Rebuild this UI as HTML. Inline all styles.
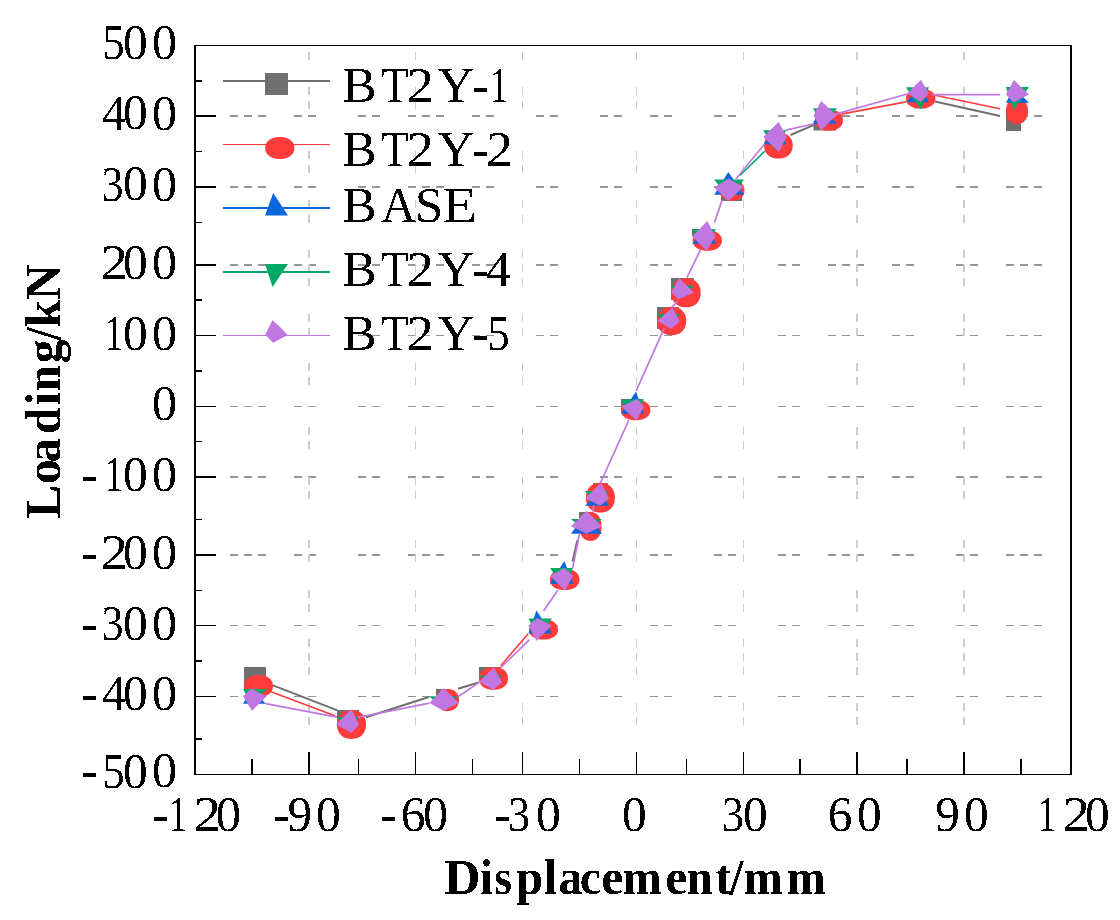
<!DOCTYPE html>
<html><head><meta charset="utf-8"><title>Loading vs Displacement</title>
<style>html,body{margin:0;padding:0;background:#fff;}svg{display:block;}</style></head>
<body><svg width="1120" height="920" viewBox="0 0 1120 920">
<defs><filter id="bin" x="-5%" y="-5%" width="110%" height="110%"><feComponentTransfer><feFuncA type="discrete" tableValues="0 1"/></feComponentTransfer></filter></defs>
<rect width="1120" height="920" fill="#fff"/>
<g fill="#969696"><rect x="230" y="115" width="8" height="2"/><rect x="244" y="115" width="8" height="2"/><rect x="258" y="115" width="8" height="2"/><rect x="294" y="115" width="8" height="2"/><rect x="308" y="115" width="8" height="2"/><rect x="358" y="115" width="8" height="2"/><rect x="372" y="115" width="8" height="2"/><rect x="408" y="115" width="8" height="2"/><rect x="422" y="115" width="8" height="2"/><rect x="436" y="115" width="8" height="2"/><rect x="472" y="115" width="8" height="2"/><rect x="486" y="115" width="8" height="2"/><rect x="536" y="115" width="8" height="2"/><rect x="550" y="115" width="8" height="2"/><rect x="600" y="115" width="8" height="2"/><rect x="614" y="115" width="8" height="2"/><rect x="650" y="115" width="8" height="2"/><rect x="664" y="115" width="8" height="2"/><rect x="714" y="115" width="8" height="2"/><rect x="728" y="115" width="8" height="2"/><rect x="778" y="115" width="8" height="2"/><rect x="792" y="115" width="8" height="2"/><rect x="828" y="115" width="8" height="2"/><rect x="842" y="115" width="8" height="2"/><rect x="856" y="115" width="8" height="2"/><rect x="892" y="115" width="8" height="2"/><rect x="906" y="115" width="8" height="2"/><rect x="956" y="115" width="8" height="2"/><rect x="970" y="115" width="8" height="2"/><rect x="1006" y="115" width="8" height="2"/><rect x="1020" y="115" width="8" height="2"/><rect x="1034" y="115" width="8" height="2"/><rect x="230" y="186" width="8" height="2"/><rect x="244" y="186" width="8" height="2"/><rect x="258" y="186" width="8" height="2"/><rect x="294" y="186" width="8" height="2"/><rect x="308" y="186" width="8" height="2"/><rect x="358" y="186" width="8" height="2"/><rect x="372" y="186" width="8" height="2"/><rect x="408" y="186" width="8" height="2"/><rect x="422" y="186" width="8" height="2"/><rect x="436" y="186" width="8" height="2"/><rect x="472" y="186" width="8" height="2"/><rect x="486" y="186" width="8" height="2"/><rect x="536" y="186" width="8" height="2"/><rect x="550" y="186" width="8" height="2"/><rect x="600" y="186" width="8" height="2"/><rect x="614" y="186" width="8" height="2"/><rect x="650" y="186" width="8" height="2"/><rect x="664" y="186" width="8" height="2"/><rect x="714" y="186" width="8" height="2"/><rect x="728" y="186" width="8" height="2"/><rect x="778" y="186" width="8" height="2"/><rect x="792" y="186" width="8" height="2"/><rect x="828" y="186" width="8" height="2"/><rect x="842" y="186" width="8" height="2"/><rect x="856" y="186" width="8" height="2"/><rect x="892" y="186" width="8" height="2"/><rect x="906" y="186" width="8" height="2"/><rect x="956" y="186" width="8" height="2"/><rect x="970" y="186" width="8" height="2"/><rect x="1006" y="186" width="8" height="2"/><rect x="1020" y="186" width="8" height="2"/><rect x="1034" y="186" width="8" height="2"/><rect x="230" y="264" width="8" height="2"/><rect x="244" y="264" width="8" height="2"/><rect x="258" y="264" width="8" height="2"/><rect x="294" y="264" width="8" height="2"/><rect x="308" y="264" width="8" height="2"/><rect x="358" y="264" width="8" height="2"/><rect x="372" y="264" width="8" height="2"/><rect x="408" y="264" width="8" height="2"/><rect x="422" y="264" width="8" height="2"/><rect x="436" y="264" width="8" height="2"/><rect x="472" y="264" width="8" height="2"/><rect x="486" y="264" width="8" height="2"/><rect x="536" y="264" width="8" height="2"/><rect x="550" y="264" width="8" height="2"/><rect x="600" y="264" width="8" height="2"/><rect x="614" y="264" width="8" height="2"/><rect x="650" y="264" width="8" height="2"/><rect x="664" y="264" width="8" height="2"/><rect x="714" y="264" width="8" height="2"/><rect x="728" y="264" width="8" height="2"/><rect x="778" y="264" width="8" height="2"/><rect x="792" y="264" width="8" height="2"/><rect x="828" y="264" width="8" height="2"/><rect x="842" y="264" width="8" height="2"/><rect x="856" y="264" width="8" height="2"/><rect x="892" y="264" width="8" height="2"/><rect x="906" y="264" width="8" height="2"/><rect x="956" y="264" width="8" height="2"/><rect x="970" y="264" width="8" height="2"/><rect x="1006" y="264" width="8" height="2"/><rect x="1020" y="264" width="8" height="2"/><rect x="1034" y="264" width="8" height="2"/><rect x="230" y="335" width="8" height="1"/><rect x="244" y="335" width="8" height="1"/><rect x="258" y="335" width="8" height="1"/><rect x="294" y="335" width="8" height="1"/><rect x="308" y="335" width="8" height="1"/><rect x="358" y="335" width="8" height="1"/><rect x="372" y="335" width="8" height="1"/><rect x="408" y="335" width="8" height="1"/><rect x="422" y="335" width="8" height="1"/><rect x="436" y="335" width="8" height="1"/><rect x="472" y="335" width="8" height="1"/><rect x="486" y="335" width="8" height="1"/><rect x="536" y="335" width="8" height="1"/><rect x="550" y="335" width="8" height="1"/><rect x="600" y="335" width="8" height="1"/><rect x="614" y="335" width="8" height="1"/><rect x="650" y="335" width="8" height="1"/><rect x="664" y="335" width="8" height="1"/><rect x="714" y="335" width="8" height="1"/><rect x="728" y="335" width="8" height="1"/><rect x="778" y="335" width="8" height="1"/><rect x="792" y="335" width="8" height="1"/><rect x="828" y="335" width="8" height="1"/><rect x="842" y="335" width="8" height="1"/><rect x="856" y="335" width="8" height="1"/><rect x="892" y="335" width="8" height="1"/><rect x="906" y="335" width="8" height="1"/><rect x="956" y="335" width="8" height="1"/><rect x="970" y="335" width="8" height="1"/><rect x="1006" y="335" width="8" height="1"/><rect x="1020" y="335" width="8" height="1"/><rect x="1034" y="335" width="8" height="1"/><rect x="230" y="406" width="8" height="1"/><rect x="244" y="406" width="8" height="1"/><rect x="258" y="406" width="8" height="1"/><rect x="294" y="406" width="8" height="1"/><rect x="308" y="406" width="8" height="1"/><rect x="358" y="406" width="8" height="1"/><rect x="372" y="406" width="8" height="1"/><rect x="408" y="406" width="8" height="1"/><rect x="422" y="406" width="8" height="1"/><rect x="436" y="406" width="8" height="1"/><rect x="472" y="406" width="8" height="1"/><rect x="486" y="406" width="8" height="1"/><rect x="536" y="406" width="8" height="1"/><rect x="550" y="406" width="8" height="1"/><rect x="600" y="406" width="8" height="1"/><rect x="614" y="406" width="8" height="1"/><rect x="650" y="406" width="8" height="1"/><rect x="664" y="406" width="8" height="1"/><rect x="714" y="406" width="8" height="1"/><rect x="728" y="406" width="8" height="1"/><rect x="778" y="406" width="8" height="1"/><rect x="792" y="406" width="8" height="1"/><rect x="828" y="406" width="8" height="1"/><rect x="842" y="406" width="8" height="1"/><rect x="856" y="406" width="8" height="1"/><rect x="892" y="406" width="8" height="1"/><rect x="906" y="406" width="8" height="1"/><rect x="956" y="406" width="8" height="1"/><rect x="970" y="406" width="8" height="1"/><rect x="1006" y="406" width="8" height="1"/><rect x="1020" y="406" width="8" height="1"/><rect x="1034" y="406" width="8" height="1"/><rect x="230" y="476" width="8" height="2"/><rect x="244" y="476" width="8" height="2"/><rect x="258" y="476" width="8" height="2"/><rect x="294" y="476" width="8" height="2"/><rect x="308" y="476" width="8" height="2"/><rect x="358" y="476" width="8" height="2"/><rect x="372" y="476" width="8" height="2"/><rect x="408" y="476" width="8" height="2"/><rect x="422" y="476" width="8" height="2"/><rect x="436" y="476" width="8" height="2"/><rect x="472" y="476" width="8" height="2"/><rect x="486" y="476" width="8" height="2"/><rect x="536" y="476" width="8" height="2"/><rect x="550" y="476" width="8" height="2"/><rect x="600" y="476" width="8" height="2"/><rect x="614" y="476" width="8" height="2"/><rect x="650" y="476" width="8" height="2"/><rect x="664" y="476" width="8" height="2"/><rect x="714" y="476" width="8" height="2"/><rect x="728" y="476" width="8" height="2"/><rect x="778" y="476" width="8" height="2"/><rect x="792" y="476" width="8" height="2"/><rect x="828" y="476" width="8" height="2"/><rect x="842" y="476" width="8" height="2"/><rect x="856" y="476" width="8" height="2"/><rect x="892" y="476" width="8" height="2"/><rect x="906" y="476" width="8" height="2"/><rect x="956" y="476" width="8" height="2"/><rect x="970" y="476" width="8" height="2"/><rect x="1006" y="476" width="8" height="2"/><rect x="1020" y="476" width="8" height="2"/><rect x="1034" y="476" width="8" height="2"/><rect x="230" y="554" width="8" height="2"/><rect x="244" y="554" width="8" height="2"/><rect x="258" y="554" width="8" height="2"/><rect x="294" y="554" width="8" height="2"/><rect x="308" y="554" width="8" height="2"/><rect x="358" y="554" width="8" height="2"/><rect x="372" y="554" width="8" height="2"/><rect x="408" y="554" width="8" height="2"/><rect x="422" y="554" width="8" height="2"/><rect x="436" y="554" width="8" height="2"/><rect x="472" y="554" width="8" height="2"/><rect x="486" y="554" width="8" height="2"/><rect x="536" y="554" width="8" height="2"/><rect x="550" y="554" width="8" height="2"/><rect x="600" y="554" width="8" height="2"/><rect x="614" y="554" width="8" height="2"/><rect x="650" y="554" width="8" height="2"/><rect x="664" y="554" width="8" height="2"/><rect x="714" y="554" width="8" height="2"/><rect x="728" y="554" width="8" height="2"/><rect x="778" y="554" width="8" height="2"/><rect x="792" y="554" width="8" height="2"/><rect x="828" y="554" width="8" height="2"/><rect x="842" y="554" width="8" height="2"/><rect x="856" y="554" width="8" height="2"/><rect x="892" y="554" width="8" height="2"/><rect x="906" y="554" width="8" height="2"/><rect x="956" y="554" width="8" height="2"/><rect x="970" y="554" width="8" height="2"/><rect x="1006" y="554" width="8" height="2"/><rect x="1020" y="554" width="8" height="2"/><rect x="1034" y="554" width="8" height="2"/><rect x="230" y="625" width="8" height="1"/><rect x="244" y="625" width="8" height="1"/><rect x="258" y="625" width="8" height="1"/><rect x="294" y="625" width="8" height="1"/><rect x="308" y="625" width="8" height="1"/><rect x="358" y="625" width="8" height="1"/><rect x="372" y="625" width="8" height="1"/><rect x="408" y="625" width="8" height="1"/><rect x="422" y="625" width="8" height="1"/><rect x="436" y="625" width="8" height="1"/><rect x="472" y="625" width="8" height="1"/><rect x="486" y="625" width="8" height="1"/><rect x="536" y="625" width="8" height="1"/><rect x="550" y="625" width="8" height="1"/><rect x="600" y="625" width="8" height="1"/><rect x="614" y="625" width="8" height="1"/><rect x="650" y="625" width="8" height="1"/><rect x="664" y="625" width="8" height="1"/><rect x="714" y="625" width="8" height="1"/><rect x="728" y="625" width="8" height="1"/><rect x="778" y="625" width="8" height="1"/><rect x="792" y="625" width="8" height="1"/><rect x="828" y="625" width="8" height="1"/><rect x="842" y="625" width="8" height="1"/><rect x="856" y="625" width="8" height="1"/><rect x="892" y="625" width="8" height="1"/><rect x="906" y="625" width="8" height="1"/><rect x="956" y="625" width="8" height="1"/><rect x="970" y="625" width="8" height="1"/><rect x="1006" y="625" width="8" height="1"/><rect x="1020" y="625" width="8" height="1"/><rect x="1034" y="625" width="8" height="1"/><rect x="230" y="696" width="8" height="1"/><rect x="244" y="696" width="8" height="1"/><rect x="258" y="696" width="8" height="1"/><rect x="294" y="696" width="8" height="1"/><rect x="308" y="696" width="8" height="1"/><rect x="358" y="696" width="8" height="1"/><rect x="372" y="696" width="8" height="1"/><rect x="408" y="696" width="8" height="1"/><rect x="422" y="696" width="8" height="1"/><rect x="436" y="696" width="8" height="1"/><rect x="472" y="696" width="8" height="1"/><rect x="486" y="696" width="8" height="1"/><rect x="536" y="696" width="8" height="1"/><rect x="550" y="696" width="8" height="1"/><rect x="600" y="696" width="8" height="1"/><rect x="614" y="696" width="8" height="1"/><rect x="650" y="696" width="8" height="1"/><rect x="664" y="696" width="8" height="1"/><rect x="714" y="696" width="8" height="1"/><rect x="728" y="696" width="8" height="1"/><rect x="778" y="696" width="8" height="1"/><rect x="792" y="696" width="8" height="1"/><rect x="828" y="696" width="8" height="1"/><rect x="842" y="696" width="8" height="1"/><rect x="856" y="696" width="8" height="1"/><rect x="892" y="696" width="8" height="1"/><rect x="906" y="696" width="8" height="1"/><rect x="956" y="696" width="8" height="1"/><rect x="970" y="696" width="8" height="1"/><rect x="1006" y="696" width="8" height="1"/><rect x="1020" y="696" width="8" height="1"/><rect x="1034" y="696" width="8" height="1"/></g>
<g fill="#cdcdcd"><rect x="308" y="52" width="2" height="8"/><rect x="308" y="87" width="2" height="8"/><rect x="308" y="101" width="2" height="8"/><rect x="308" y="151" width="2" height="8"/><rect x="308" y="165" width="2" height="8"/><rect x="308" y="200" width="2" height="8"/><rect x="308" y="215" width="2" height="8"/><rect x="308" y="250" width="2" height="8"/><rect x="308" y="264" width="2" height="8"/><rect x="308" y="278" width="2" height="8"/><rect x="308" y="314" width="2" height="8"/><rect x="308" y="328" width="2" height="8"/><rect x="308" y="363" width="2" height="8"/><rect x="308" y="377" width="2" height="8"/><rect x="308" y="427" width="2" height="8"/><rect x="308" y="441" width="2" height="8"/><rect x="308" y="477" width="2" height="8"/><rect x="308" y="491" width="2" height="8"/><rect x="308" y="540" width="2" height="8"/><rect x="308" y="554" width="2" height="8"/><rect x="308" y="590" width="2" height="8"/><rect x="308" y="604" width="2" height="8"/><rect x="308" y="639" width="2" height="8"/><rect x="308" y="653" width="2" height="8"/><rect x="308" y="667" width="2" height="8"/><rect x="308" y="703" width="2" height="8"/><rect x="308" y="717" width="2" height="8"/><rect x="415" y="52" width="1" height="8"/><rect x="415" y="87" width="1" height="8"/><rect x="415" y="101" width="1" height="8"/><rect x="415" y="151" width="1" height="8"/><rect x="415" y="165" width="1" height="8"/><rect x="415" y="200" width="1" height="8"/><rect x="415" y="215" width="1" height="8"/><rect x="415" y="250" width="1" height="8"/><rect x="415" y="264" width="1" height="8"/><rect x="415" y="278" width="1" height="8"/><rect x="415" y="314" width="1" height="8"/><rect x="415" y="328" width="1" height="8"/><rect x="415" y="363" width="1" height="8"/><rect x="415" y="377" width="1" height="8"/><rect x="415" y="427" width="1" height="8"/><rect x="415" y="441" width="1" height="8"/><rect x="415" y="477" width="1" height="8"/><rect x="415" y="491" width="1" height="8"/><rect x="415" y="540" width="1" height="8"/><rect x="415" y="554" width="1" height="8"/><rect x="415" y="590" width="1" height="8"/><rect x="415" y="604" width="1" height="8"/><rect x="415" y="639" width="1" height="8"/><rect x="415" y="653" width="1" height="8"/><rect x="415" y="667" width="1" height="8"/><rect x="415" y="703" width="1" height="8"/><rect x="415" y="717" width="1" height="8"/><rect x="522" y="52" width="1" height="8"/><rect x="522" y="87" width="1" height="8"/><rect x="522" y="101" width="1" height="8"/><rect x="522" y="151" width="1" height="8"/><rect x="522" y="165" width="1" height="8"/><rect x="522" y="200" width="1" height="8"/><rect x="522" y="215" width="1" height="8"/><rect x="522" y="250" width="1" height="8"/><rect x="522" y="264" width="1" height="8"/><rect x="522" y="278" width="1" height="8"/><rect x="522" y="314" width="1" height="8"/><rect x="522" y="328" width="1" height="8"/><rect x="522" y="363" width="1" height="8"/><rect x="522" y="377" width="1" height="8"/><rect x="522" y="427" width="1" height="8"/><rect x="522" y="441" width="1" height="8"/><rect x="522" y="477" width="1" height="8"/><rect x="522" y="491" width="1" height="8"/><rect x="522" y="540" width="1" height="8"/><rect x="522" y="554" width="1" height="8"/><rect x="522" y="590" width="1" height="8"/><rect x="522" y="604" width="1" height="8"/><rect x="522" y="639" width="1" height="8"/><rect x="522" y="653" width="1" height="8"/><rect x="522" y="667" width="1" height="8"/><rect x="522" y="703" width="1" height="8"/><rect x="522" y="717" width="1" height="8"/><rect x="636" y="52" width="1" height="8"/><rect x="636" y="87" width="1" height="8"/><rect x="636" y="101" width="1" height="8"/><rect x="636" y="151" width="1" height="8"/><rect x="636" y="165" width="1" height="8"/><rect x="636" y="200" width="1" height="8"/><rect x="636" y="215" width="1" height="8"/><rect x="636" y="250" width="1" height="8"/><rect x="636" y="264" width="1" height="8"/><rect x="636" y="278" width="1" height="8"/><rect x="636" y="314" width="1" height="8"/><rect x="636" y="328" width="1" height="8"/><rect x="636" y="363" width="1" height="8"/><rect x="636" y="377" width="1" height="8"/><rect x="636" y="427" width="1" height="8"/><rect x="636" y="441" width="1" height="8"/><rect x="636" y="477" width="1" height="8"/><rect x="636" y="491" width="1" height="8"/><rect x="636" y="540" width="1" height="8"/><rect x="636" y="554" width="1" height="8"/><rect x="636" y="590" width="1" height="8"/><rect x="636" y="604" width="1" height="8"/><rect x="636" y="639" width="1" height="8"/><rect x="636" y="653" width="1" height="8"/><rect x="636" y="667" width="1" height="8"/><rect x="636" y="703" width="1" height="8"/><rect x="636" y="717" width="1" height="8"/><rect x="743" y="52" width="1" height="8"/><rect x="743" y="87" width="1" height="8"/><rect x="743" y="101" width="1" height="8"/><rect x="743" y="151" width="1" height="8"/><rect x="743" y="165" width="1" height="8"/><rect x="743" y="200" width="1" height="8"/><rect x="743" y="215" width="1" height="8"/><rect x="743" y="250" width="1" height="8"/><rect x="743" y="264" width="1" height="8"/><rect x="743" y="278" width="1" height="8"/><rect x="743" y="314" width="1" height="8"/><rect x="743" y="328" width="1" height="8"/><rect x="743" y="363" width="1" height="8"/><rect x="743" y="377" width="1" height="8"/><rect x="743" y="427" width="1" height="8"/><rect x="743" y="441" width="1" height="8"/><rect x="743" y="477" width="1" height="8"/><rect x="743" y="491" width="1" height="8"/><rect x="743" y="540" width="1" height="8"/><rect x="743" y="554" width="1" height="8"/><rect x="743" y="590" width="1" height="8"/><rect x="743" y="604" width="1" height="8"/><rect x="743" y="639" width="1" height="8"/><rect x="743" y="653" width="1" height="8"/><rect x="743" y="667" width="1" height="8"/><rect x="743" y="703" width="1" height="8"/><rect x="743" y="717" width="1" height="8"/><rect x="856" y="52" width="2" height="8"/><rect x="856" y="87" width="2" height="8"/><rect x="856" y="101" width="2" height="8"/><rect x="856" y="151" width="2" height="8"/><rect x="856" y="165" width="2" height="8"/><rect x="856" y="200" width="2" height="8"/><rect x="856" y="215" width="2" height="8"/><rect x="856" y="250" width="2" height="8"/><rect x="856" y="264" width="2" height="8"/><rect x="856" y="278" width="2" height="8"/><rect x="856" y="314" width="2" height="8"/><rect x="856" y="328" width="2" height="8"/><rect x="856" y="363" width="2" height="8"/><rect x="856" y="377" width="2" height="8"/><rect x="856" y="427" width="2" height="8"/><rect x="856" y="441" width="2" height="8"/><rect x="856" y="477" width="2" height="8"/><rect x="856" y="491" width="2" height="8"/><rect x="856" y="540" width="2" height="8"/><rect x="856" y="554" width="2" height="8"/><rect x="856" y="590" width="2" height="8"/><rect x="856" y="604" width="2" height="8"/><rect x="856" y="639" width="2" height="8"/><rect x="856" y="653" width="2" height="8"/><rect x="856" y="667" width="2" height="8"/><rect x="856" y="703" width="2" height="8"/><rect x="856" y="717" width="2" height="8"/><rect x="963" y="52" width="2" height="8"/><rect x="963" y="87" width="2" height="8"/><rect x="963" y="101" width="2" height="8"/><rect x="963" y="151" width="2" height="8"/><rect x="963" y="165" width="2" height="8"/><rect x="963" y="200" width="2" height="8"/><rect x="963" y="215" width="2" height="8"/><rect x="963" y="250" width="2" height="8"/><rect x="963" y="264" width="2" height="8"/><rect x="963" y="278" width="2" height="8"/><rect x="963" y="314" width="2" height="8"/><rect x="963" y="328" width="2" height="8"/><rect x="963" y="363" width="2" height="8"/><rect x="963" y="377" width="2" height="8"/><rect x="963" y="427" width="2" height="8"/><rect x="963" y="441" width="2" height="8"/><rect x="963" y="477" width="2" height="8"/><rect x="963" y="491" width="2" height="8"/><rect x="963" y="540" width="2" height="8"/><rect x="963" y="554" width="2" height="8"/><rect x="963" y="590" width="2" height="8"/><rect x="963" y="604" width="2" height="8"/><rect x="963" y="639" width="2" height="8"/><rect x="963" y="653" width="2" height="8"/><rect x="963" y="667" width="2" height="8"/><rect x="963" y="703" width="2" height="8"/><rect x="963" y="717" width="2" height="8"/></g>
<rect x="244" y="667" width="22" height="22" fill="#6f6f6f"/>
<rect x="337" y="710" width="22" height="17" fill="#6f6f6f"/>
<rect x="436" y="689" width="12" height="8" fill="#6f6f6f"/>
<rect x="479" y="667" width="22" height="12" fill="#6f6f6f"/>
<rect x="532" y="620" width="16" height="12" fill="#6f6f6f"/>
<rect x="555" y="570" width="16" height="12" fill="#6f6f6f"/>
<rect x="579" y="512" width="14" height="12" fill="#6f6f6f"/>
<rect x="593" y="483" width="15" height="10" fill="#6f6f6f"/>
<rect x="621" y="399" width="22" height="12" fill="#6f6f6f"/>
<rect x="657" y="307" width="22" height="22" fill="#6f6f6f"/>
<rect x="671" y="278" width="23" height="22" fill="#6f6f6f"/>
<rect x="692" y="229" width="22" height="7" fill="#6f6f6f"/>
<rect x="721" y="180" width="21" height="21" fill="#6f6f6f"/>
<rect x="770" y="133" width="14" height="8" fill="#6f6f6f"/>
<rect x="813.6" y="121" width="22.4" height="9.5" fill="#6f6f6f"/>
<rect x="914" y="95" width="13" height="13.4" fill="#6f6f6f"/>
<rect x="1006" y="109" width="15" height="22" fill="#6f6f6f"/>
<polygon points="273.00,686.00 272.84,688.04 272.35,689.78 271.56,691.37 270.46,692.79 269.08,694.03 267.44,695.07 265.57,695.90 263.49,696.51 261.18,696.88 258.50,697.00 255.82,696.88 253.51,696.51 251.43,695.90 249.56,695.07 247.92,694.03 246.54,692.79 245.44,691.37 244.65,689.78 244.16,688.04 244.00,686.00 244.16,683.96 244.65,682.22 245.44,680.63 246.54,679.21 247.92,677.97 249.56,676.93 251.43,676.10 253.51,675.49 255.82,675.12 258.50,675.00 261.18,675.12 263.49,675.49 265.57,676.10 267.44,676.93 269.08,677.97 270.46,679.21 271.56,680.63 272.35,682.22 272.84,683.96" fill="#ff3b3b"/>
<polygon points="366.00,724.50 365.84,727.18 365.35,729.49 364.56,731.57 363.46,733.44 362.08,735.08 360.44,736.46 358.57,737.56 356.49,738.35 354.18,738.84 351.50,739.00 348.82,738.84 346.51,738.35 344.43,737.56 342.56,736.46 340.92,735.08 339.54,733.44 338.44,731.57 337.65,729.49 337.16,727.18 337.00,724.50 337.16,721.82 337.65,719.51 338.44,717.43 339.54,715.56 340.92,713.92 342.56,712.54 344.43,711.44 346.51,710.65 348.82,710.16 351.50,710.00 354.18,710.16 356.49,710.65 358.57,711.44 360.44,712.54 362.08,713.92 363.46,715.56 364.56,717.43 365.35,719.51 365.84,721.82" fill="#ff3b3b"/>
<polygon points="459.00,700.00 458.87,702.04 458.49,703.78 457.85,705.37 456.98,706.79 455.89,708.03 454.59,709.07 453.11,709.90 451.45,710.51 449.63,710.88 447.50,711.00 445.37,710.88 443.55,710.51 441.89,709.90 440.41,709.07 439.11,708.03 438.02,706.79 437.15,705.37 436.51,703.78 436.13,702.04 436.00,700.00 436.13,697.96 436.51,696.22 437.15,694.63 438.02,693.21 439.11,691.97 440.41,690.93 441.89,690.10 443.55,689.49 445.37,689.12 447.50,689.00 449.63,689.12 451.45,689.49 453.11,690.10 454.59,690.93 455.89,691.97 456.98,693.21 457.85,694.63 458.49,696.22 458.87,697.96" fill="#ff3b3b"/>
<polygon points="508.00,678.40 507.84,680.51 507.35,682.32 506.56,683.96 505.46,685.43 504.08,686.72 502.44,687.80 500.57,688.66 498.49,689.29 496.18,689.67 493.50,689.80 490.82,689.67 488.51,689.29 486.43,688.66 484.56,687.80 482.92,686.72 481.54,685.43 480.44,683.96 479.65,682.32 479.16,680.51 479.00,678.40 479.16,676.29 479.65,674.48 480.44,672.84 481.54,671.37 482.92,670.08 484.56,669.00 486.43,668.14 488.51,667.51 490.82,667.13 493.50,667.00 496.18,667.13 498.49,667.51 500.57,668.14 502.44,669.00 504.08,670.08 505.46,671.37 506.56,672.84 507.35,674.48 507.84,676.29" fill="#ff3b3b"/>
<polygon points="558.00,629.60 557.84,631.45 557.35,633.04 556.56,634.48 555.46,635.77 554.08,636.90 552.44,637.85 550.57,638.60 548.49,639.15 546.18,639.49 543.50,639.60 540.82,639.49 538.51,639.15 536.43,638.60 534.56,637.85 532.92,636.90 531.54,635.77 530.44,634.48 529.65,633.04 529.16,631.45 529.00,629.60 529.16,627.75 529.65,626.16 530.44,624.72 531.54,623.43 532.92,622.30 534.56,621.35 536.43,620.60 538.51,620.05 540.82,619.71 543.50,619.60 546.18,619.71 548.49,620.05 550.57,620.60 552.44,621.35 554.08,622.30 555.46,623.43 556.56,624.72 557.35,626.16 557.84,627.75" fill="#ff3b3b"/>
<polygon points="579.50,579.50 579.33,581.44 578.84,583.11 578.03,584.62 576.91,585.98 575.50,587.16 573.83,588.16 571.92,588.95 569.79,589.53 567.44,589.88 564.70,590.00 561.96,589.88 559.61,589.53 557.48,588.95 555.57,588.16 553.90,587.16 552.49,585.98 551.37,584.62 550.56,583.11 550.07,581.44 549.90,579.50 550.07,577.56 550.56,575.89 551.37,574.38 552.49,573.02 553.90,571.84 555.57,570.84 557.48,570.05 559.61,569.47 561.96,569.12 564.70,569.00 567.44,569.12 569.79,569.47 571.92,570.05 573.83,570.84 575.50,571.84 576.91,573.02 578.03,574.38 578.84,575.89 579.33,577.56" fill="#ff3b3b"/>
<polygon points="601.50,526.50 601.38,529.18 601.01,531.49 600.40,533.57 599.57,535.44 598.53,537.08 597.29,538.46 595.87,539.56 594.28,540.35 592.54,540.84 590.50,541.00 588.46,540.84 586.72,540.35 585.13,539.56 583.71,538.46 582.47,537.08 581.43,535.44 580.60,533.57 579.99,531.49 579.62,529.18 579.50,526.50 579.62,523.82 579.99,521.51 580.60,519.43 581.43,517.56 582.47,515.92 583.71,514.54 585.13,513.44 586.72,512.65 588.46,512.16 590.50,512.00 592.54,512.16 594.28,512.65 595.87,513.44 597.29,514.54 598.53,515.92 599.57,517.56 600.40,519.43 601.01,521.51 601.38,523.82" fill="#ff3b3b"/>
<polygon points="614.90,497.70 614.74,500.46 614.25,502.82 613.46,504.97 612.36,506.89 610.98,508.57 609.34,509.99 607.47,511.12 605.39,511.94 603.08,512.43 600.40,512.60 597.72,512.43 595.41,511.94 593.33,511.12 591.46,509.99 589.82,508.57 588.44,506.89 587.34,504.97 586.55,502.82 586.06,500.46 585.90,497.70 586.06,494.94 586.55,492.58 587.34,490.43 588.44,488.51 589.82,486.83 591.46,485.41 593.33,484.28 595.41,483.46 597.72,482.97 600.40,482.80 603.08,482.97 605.39,483.46 607.47,484.28 609.34,485.41 610.98,486.83 612.36,488.51 613.46,490.43 614.25,492.58 614.74,494.94" fill="#ff3b3b"/>
<polygon points="650.40,410.00 650.24,411.91 649.74,413.54 648.94,415.02 647.82,416.35 646.43,417.52 644.77,418.49 642.87,419.27 640.75,419.84 638.42,420.18 635.70,420.30 632.98,420.18 630.65,419.84 628.53,419.27 626.63,418.49 624.97,417.52 623.58,416.35 622.46,415.02 621.66,413.54 621.16,411.91 621.00,410.00 621.16,408.09 621.66,406.46 622.46,404.98 623.58,403.65 624.97,402.48 626.63,401.51 628.53,400.73 630.65,400.16 632.98,399.82 635.70,399.70 638.42,399.82 640.75,400.16 642.87,400.73 644.77,401.51 646.43,402.48 647.82,403.65 648.94,404.98 649.74,406.46 650.24,408.09" fill="#ff3b3b"/>
<polygon points="686.20,321.00 686.04,323.63 685.55,325.88 684.75,327.93 683.64,329.76 682.25,331.36 680.61,332.71 678.72,333.79 676.62,334.57 674.30,335.04 671.60,335.20 668.90,335.04 666.58,334.57 664.48,333.79 662.59,332.71 660.95,331.36 659.56,329.76 658.45,327.93 657.65,325.88 657.16,323.63 657.00,321.00 657.16,318.37 657.65,316.12 658.45,314.07 659.56,312.24 660.95,310.64 662.59,309.29 664.48,308.21 666.58,307.43 668.90,306.96 671.60,306.80 674.30,306.96 676.62,307.43 678.72,308.21 680.61,309.29 682.25,310.64 683.64,312.24 684.75,314.07 685.55,316.12 686.04,318.37" fill="#ff3b3b"/>
<polygon points="700.70,292.80 700.54,295.48 700.04,297.79 699.24,299.87 698.12,301.74 696.73,303.38 695.07,304.76 693.17,305.86 691.05,306.65 688.72,307.14 686.00,307.30 683.28,307.14 680.95,306.65 678.83,305.86 676.93,304.76 675.27,303.38 673.88,301.74 672.76,299.87 671.96,297.79 671.46,295.48 671.30,292.80 671.46,290.12 671.96,287.81 672.76,285.73 673.88,283.86 675.27,282.22 676.93,280.84 678.83,279.74 680.95,278.95 683.28,278.46 686.00,278.30 688.72,278.46 691.05,278.95 693.17,279.74 695.07,280.84 696.73,282.22 698.12,283.86 699.24,285.73 700.04,287.81 700.54,290.12" fill="#ff3b3b"/>
<polygon points="721.90,240.50 721.74,242.41 721.25,244.04 720.45,245.52 719.34,246.85 717.95,248.02 716.31,248.99 714.42,249.77 712.32,250.34 710.00,250.68 707.30,250.80 704.60,250.68 702.28,250.34 700.18,249.77 698.29,248.99 696.65,248.02 695.26,246.85 694.15,245.52 693.35,244.04 692.86,242.41 692.70,240.50 692.86,238.59 693.35,236.96 694.15,235.48 695.26,234.15 696.65,232.98 698.29,232.01 700.18,231.23 702.28,230.66 704.60,230.32 707.30,230.20 710.00,230.32 712.32,230.66 714.42,231.23 716.31,232.01 717.95,232.98 719.34,234.15 720.45,235.48 721.25,236.96 721.74,238.59" fill="#ff3b3b"/>
<polygon points="744.50,190.50 744.36,192.41 743.94,194.04 743.26,195.52 742.31,196.85 741.12,198.02 739.71,198.99 738.10,199.77 736.30,200.34 734.31,200.68 732.00,200.80 729.69,200.68 727.70,200.34 725.90,199.77 724.29,198.99 722.88,198.02 721.69,196.85 720.74,195.52 720.06,194.04 719.64,192.41 719.50,190.50 719.64,188.59 720.06,186.96 720.74,185.48 721.69,184.15 722.88,182.98 724.29,182.01 725.90,181.23 727.70,180.66 729.69,180.32 732.00,180.20 734.31,180.32 736.30,180.66 738.10,181.23 739.71,182.01 741.12,182.98 742.31,184.15 743.26,185.48 743.94,186.96 744.36,188.59" fill="#ff3b3b"/>
<polygon points="792.70,145.50 792.54,147.93 792.06,150.00 791.28,151.89 790.19,153.58 788.84,155.06 787.22,156.30 785.38,157.30 783.32,158.02 781.05,158.45 778.40,158.60 775.75,158.45 773.48,158.02 771.42,157.30 769.58,156.30 767.96,155.06 766.61,153.58 765.52,151.89 764.74,150.00 764.26,147.93 764.10,145.50 764.26,143.07 764.74,141.00 765.52,139.11 766.61,137.42 767.96,135.94 769.58,134.70 771.42,133.70 773.48,132.98 775.75,132.55 778.40,132.40 781.05,132.55 783.32,132.98 785.38,133.70 787.22,134.70 788.84,135.94 790.19,137.42 791.28,139.11 792.06,141.00 792.54,143.07" fill="#ff3b3b"/>
<polygon points="843.00,120.20 842.84,122.14 842.38,123.81 841.61,125.32 840.55,126.68 839.22,127.86 837.64,128.86 835.83,129.65 833.81,130.23 831.59,130.58 829.00,130.70 826.41,130.58 824.19,130.23 822.17,129.65 820.36,128.86 818.78,127.86 817.45,126.68 816.39,125.32 815.62,123.81 815.16,122.14 815.00,120.20 815.16,118.26 815.62,116.59 816.39,115.08 817.45,113.72 818.78,112.54 820.36,111.54 822.17,110.75 824.19,110.17 826.41,109.82 829.00,109.70 831.59,109.82 833.81,110.17 835.83,110.75 837.64,111.54 839.22,112.54 840.55,113.72 841.61,115.08 842.38,116.59 842.84,118.26" fill="#ff3b3b"/>
<polygon points="935.40,98.60 935.24,100.41 934.74,101.97 933.94,103.38 932.82,104.65 931.43,105.75 929.77,106.68 927.87,107.42 925.75,107.96 923.42,108.29 920.70,108.40 917.98,108.29 915.65,107.96 913.53,107.42 911.63,106.68 909.97,105.75 908.58,104.65 907.46,103.38 906.66,101.97 906.16,100.41 906.00,98.60 906.16,96.79 906.66,95.23 907.46,93.82 908.58,92.55 909.97,91.45 911.63,90.52 913.53,89.78 915.65,89.24 917.98,88.91 920.70,88.80 923.42,88.91 925.75,89.24 927.87,89.78 929.77,90.52 931.43,91.45 932.82,92.55 933.94,93.82 934.74,95.23 935.24,96.79" fill="#ff3b3b"/>
<polygon points="1028.00,111.00 1027.88,113.41 1027.51,115.47 1026.90,117.34 1026.07,119.02 1025.03,120.49 1023.79,121.72 1022.37,122.71 1020.78,123.42 1019.04,123.85 1017.00,124.00 1014.96,123.85 1013.22,123.42 1011.63,122.71 1010.21,121.72 1008.97,120.49 1007.93,119.02 1007.10,117.34 1006.49,115.47 1006.12,113.41 1006.00,111.00 1006.12,108.59 1006.49,106.53 1007.10,104.66 1007.93,102.98 1008.97,101.51 1010.21,100.28 1011.63,99.29 1013.22,98.58 1014.96,98.15 1017.00,98.00 1019.04,98.15 1020.78,98.58 1022.37,99.29 1023.79,100.28 1025.03,101.51 1026.07,102.98 1026.90,104.66 1027.51,106.53 1027.88,108.59" fill="#ff3b3b"/>
<polygon points="251.4,688.1 265.8,703.7 243.1,703.7" fill="#0a66dc"/>
<polygon points="348,712 359,725.3 336.5,725.3" fill="#0a66dc"/>
<polygon points="443.5,693 454,704 433,704" fill="#0a66dc"/>
<polygon points="493,676 500,684 486,684" fill="#0a66dc"/>
<polygon points="536.4,610.4 552,633.6 528.6,633.6" fill="#0a66dc"/>
<polygon points="564.3,561 573.2,583.7 549.9,583.7" fill="#0a66dc"/>
<polygon points="586.4,512 602,533.7 571,533.7" fill="#0a66dc"/>
<polygon points="600,492 609,505.8 584.9,505.8" fill="#0a66dc"/>
<polygon points="636,391.4 643.9,413.8 621.1,413.8" fill="#0a66dc"/>
<polygon points="669,315 676,322 662,322" fill="#0a66dc"/>
<polygon points="680,286 688,296 675,296" fill="#0a66dc"/>
<polygon points="707,226 715.8,243.7 692.2,243.7" fill="#0a66dc"/>
<polygon points="728.3,172.1 744,194.8 714.2,194.8" fill="#0a66dc"/>
<polygon points="778,128 786,144.6 763.2,144.6" fill="#0a66dc"/>
<polygon points="821,108 836.9,123.75 813,123.75" fill="#0a66dc"/>
<polygon points="920,88 929,102.25 906,102.25" fill="#0a66dc"/>
<polygon points="1014,88 1029,102.8 1005.9,102.8" fill="#0a66dc"/>
<polygon points="243.1,689.1 266.7,689.1 252,706" fill="#00a865"/>
<polygon points="337,717 359,717 350,731" fill="#00a865"/>
<polygon points="429,696.2 458,696.2 443.5,708" fill="#00a865"/>
<polygon points="479.3,675.4 502,675.4 492,688" fill="#00a865"/>
<polygon points="528.6,618.4 552,618.4 538,638" fill="#00a865"/>
<polygon points="550,568 573,568 564,588" fill="#00a865"/>
<polygon points="570.9,519.1 602,519.1 586.4,532" fill="#00a865"/>
<polygon points="584.9,491.1 609,491.1 597,505" fill="#00a865"/>
<polygon points="621.1,399.5 643.9,399.5 634,419" fill="#00a865"/>
<polygon points="657.4,314 680,314 668,327" fill="#00a865"/>
<polygon points="671.3,285.4 693.9,285.4 680,299" fill="#00a865"/>
<polygon points="692.2,229.3 715.8,229.3 704,249" fill="#00a865"/>
<polygon points="714.2,179.6 744,179.6 729,199" fill="#00a865"/>
<polygon points="763.2,130.2 786.25,130.2 775,150" fill="#00a865"/>
<polygon points="813,108.2 836.9,108.2 824,128" fill="#00a865"/>
<polygon points="906,87.25 929,87.25 920.9,109.4" fill="#00a865"/>
<polygon points="1005.9,86.9 1029,86.9 1013.5,109.9" fill="#00a865"/>
<polygon points="251.4,688.6 266.7,696.2 252,710.8 243.1,696.2" fill="#c077e1"/>
<polygon points="351.4,709 359,724.6 351.5,733 336.2,724.5" fill="#c077e1"/>
<polygon points="443.5,688.1 458.8,703.1 443.6,710.8 429.4,702.9" fill="#c077e1"/>
<polygon points="494,667.2 502,682.6 493.5,689.7 479.1,681.7" fill="#c077e1"/>
<polygon points="537.3,618 551.7,625.5 536.4,640.7 528.4,625.5" fill="#c077e1"/>
<polygon points="564.3,568 573,575.7 564.9,590.7 550.2,575.7" fill="#c077e1"/>
<polygon points="586.4,511.1 602,526.3 586.4,533.7 571.1,526.3" fill="#c077e1"/>
<polygon points="601.1,482.9 609,498.3 600.3,505.8 585.1,498.3" fill="#c077e1"/>
<polygon points="637.1,399 643.9,406.6 636.6,420.3 621.1,406.6" fill="#c077e1"/>
<polygon points="672.4,307.5 679.6,321.3 671.3,329.1 657.4,320.9" fill="#c077e1"/>
<polygon points="679.1,278.3 693.9,292.5 678.4,299.5 671.3,292.5" fill="#c077e1"/>
<polygon points="707.3,221.1 715.4,236.6 706.6,250.8 692.2,236.4" fill="#c077e1"/>
<polygon points="728.3,178.6 743.5,187 728.3,201.1 714.2,187.4" fill="#c077e1"/>
<polygon points="778.75,122.1 786.6,137.1 779.1,151.9 763.2,137.1" fill="#c077e1"/>
<polygon points="821.1,100.9 836.6,115.2 821.1,130.5 813.6,115.2" fill="#c077e1"/>
<polygon points="920.9,79.75 929,93.4 920.9,101.9 907.25,93.4" fill="#c077e1"/>
<polygon points="1013.9,79.9 1028.9,94.4 1013.7,102.5 1005.9,94.4" fill="#c077e1"/>
<line x1="273.1" y1="685.4" x2="337.4" y2="710.4" stroke="#6f6f6f" stroke-width="2"/>
<line x1="366" y1="717.3" x2="428.9" y2="697" stroke="#6f6f6f" stroke-width="2"/>
<line x1="458" y1="688.75" x2="478.6" y2="682.5" stroke="#6f6f6f" stroke-width="2"/>
<line x1="572.5" y1="561.5" x2="577.4" y2="540.3" stroke="#6f6f6f" stroke-width="2"/>
<line x1="790.5" y1="135" x2="814.1" y2="124.8" stroke="#6f6f6f" stroke-width="2"/>
<line x1="935" y1="101.5" x2="1000" y2="115.9" stroke="#6f6f6f" stroke-width="2"/>
<line x1="270.9" y1="691.8" x2="334.9" y2="715.7" stroke="#ff3b3b" stroke-width="1.6"/>
<line x1="500.8" y1="665.7" x2="528.2" y2="633.7" stroke="#ff3b3b" stroke-width="1.6"/>
<line x1="841.25" y1="114.1" x2="906" y2="101.9" stroke="#ff3b3b" stroke-width="1.6"/>
<line x1="935" y1="95.3" x2="1000" y2="108.8" stroke="#ff3b3b" stroke-width="1.6"/>
<line x1="740" y1="175.5" x2="765" y2="151" stroke="#00a865" stroke-width="1.6"/>
<line x1="265.6" y1="703.6" x2="337" y2="717.1" stroke="#c077e1" stroke-width="1.7"/>
<line x1="358" y1="717.3" x2="429.4" y2="703.2" stroke="#c077e1" stroke-width="1.7"/>
<line x1="458" y1="696.8" x2="479.5" y2="682.1" stroke="#c077e1" stroke-width="1.7"/>
<line x1="500.4" y1="668" x2="529.5" y2="639.6" stroke="#c077e1" stroke-width="1.7"/>
<line x1="543.5" y1="611" x2="557.8" y2="590.3" stroke="#c077e1" stroke-width="1.7"/>
<line x1="572.5" y1="568.6" x2="579.6" y2="533.3" stroke="#c077e1" stroke-width="1.7"/>
<line x1="593.5" y1="512.4" x2="593.5" y2="505" stroke="#c077e1" stroke-width="1.7"/>
<line x1="600.4" y1="483" x2="628.7" y2="420.3" stroke="#c077e1" stroke-width="1.7"/>
<line x1="636.1" y1="390.9" x2="664.2" y2="328.3" stroke="#c077e1" stroke-width="1.7"/>
<line x1="672" y1="307.3" x2="677.7" y2="301" stroke="#c077e1" stroke-width="1.7"/>
<line x1="686.9" y1="277.6" x2="700.3" y2="250.1" stroke="#c077e1" stroke-width="1.7"/>
<line x1="714.4" y1="222.5" x2="722.2" y2="199.9" stroke="#c077e1" stroke-width="1.7"/>
<line x1="735.9" y1="179" x2="764.4" y2="144.2" stroke="#c077e1" stroke-width="1.7"/>
<line x1="785.7" y1="130.2" x2="814.1" y2="123.75" stroke="#c077e1" stroke-width="1.7"/>
<line x1="835.6" y1="114.1" x2="907.25" y2="94" stroke="#c077e1" stroke-width="1.7"/>
<line x1="932" y1="94.6" x2="1000" y2="94.6" stroke="#c077e1" stroke-width="1.7"/>
<rect x="194" y="45" width="878" height="1" fill="#000"/>
<rect x="194" y="774" width="878" height="1" fill="#000"/>
<rect x="194" y="45" width="2" height="730" fill="#000"/>
<rect x="1070" y="45" width="2" height="730" fill="#000"/>
<rect x="196" y="115" width="20" height="2" fill="#000"/>
<rect x="196" y="186" width="20" height="2" fill="#000"/>
<rect x="196" y="264" width="20" height="2" fill="#000"/>
<rect x="196" y="335" width="20" height="1" fill="#000"/>
<rect x="196" y="406" width="20" height="1" fill="#000"/>
<rect x="196" y="476" width="20" height="2" fill="#000"/>
<rect x="196" y="554" width="20" height="2" fill="#000"/>
<rect x="196" y="625" width="20" height="1" fill="#000"/>
<rect x="196" y="696" width="20" height="1" fill="#000"/>
<rect x="196" y="80" width="6" height="2" fill="#000"/>
<rect x="196" y="151" width="6" height="1" fill="#000"/>
<rect x="196" y="222" width="6" height="1" fill="#000"/>
<rect x="196" y="299" width="6" height="2" fill="#000"/>
<rect x="196" y="370" width="6" height="2" fill="#000"/>
<rect x="196" y="441" width="6" height="1" fill="#000"/>
<rect x="196" y="519" width="6" height="1" fill="#000"/>
<rect x="196" y="590" width="6" height="1" fill="#000"/>
<rect x="196" y="660" width="6" height="2" fill="#000"/>
<rect x="196" y="738" width="6" height="2" fill="#000"/>
<rect x="308" y="752" width="2" height="22" fill="#000"/>
<rect x="415" y="752" width="1" height="22" fill="#000"/>
<rect x="522" y="752" width="1" height="22" fill="#000"/>
<rect x="636" y="752" width="1" height="22" fill="#000"/>
<rect x="743" y="752" width="1" height="22" fill="#000"/>
<rect x="856" y="752" width="2" height="22" fill="#000"/>
<rect x="963" y="752" width="2" height="22" fill="#000"/>
<rect x="251" y="759" width="2" height="15" fill="#000"/>
<rect x="358" y="759" width="1" height="15" fill="#000"/>
<rect x="472" y="759" width="1" height="15" fill="#000"/>
<rect x="579" y="759" width="1" height="15" fill="#000"/>
<rect x="686" y="759" width="1" height="15" fill="#000"/>
<rect x="799" y="759" width="2" height="15" fill="#000"/>
<rect x="906" y="759" width="2" height="15" fill="#000"/>
<rect x="1020" y="759" width="2" height="15" fill="#000"/>
<g font-family="Liberation Serif" fill="#000" filter="url(#bin)">
<text transform="scale(0.8817,1)" x="116.17" y="58.61" font-size="50.4">5</text>
<text transform="scale(0.9831,1)" x="125.23" y="58.61" font-size="50.4">0</text>
<text transform="scale(0.9925,1)" x="153.05" y="58.61" font-size="50.4">0</text>
<text transform="scale(0.9433,1)" x="108.10" y="129.51" font-size="50.4">4</text>
<text transform="scale(0.9831,1)" x="125.23" y="129.51" font-size="50.4">0</text>
<text transform="scale(0.9925,1)" x="153.05" y="129.51" font-size="50.4">0</text>
<text transform="scale(0.8742,1)" x="116.21" y="200.51" font-size="50.4">3</text>
<text transform="scale(0.9831,1)" x="125.23" y="200.51" font-size="50.4">0</text>
<text transform="scale(0.9925,1)" x="153.05" y="200.51" font-size="50.4">0</text>
<text transform="scale(1.0889,1)" x="92.38" y="278.61" font-size="50.4">2</text>
<text transform="scale(0.9831,1)" x="125.23" y="278.61" font-size="50.4">0</text>
<text transform="scale(0.9925,1)" x="153.05" y="278.61" font-size="50.4">0</text>
<text transform="scale(0.7608,1)" x="137.12" y="350.11" font-size="50.4">1</text>
<text transform="scale(0.9831,1)" x="125.23" y="350.11" font-size="50.4">0</text>
<text transform="scale(0.9925,1)" x="153.05" y="350.11" font-size="50.4">0</text>
<text transform="scale(0.9925,1)" x="153.05" y="420.11" font-size="50.4">0</text>
<text transform="scale(1.0006,1)" x="80.88" y="491.31" font-size="50.4">-</text>
<text transform="scale(0.7608,1)" x="137.12" y="491.31" font-size="50.4">1</text>
<text transform="scale(0.9831,1)" x="125.23" y="491.31" font-size="50.4">0</text>
<text transform="scale(0.9925,1)" x="153.05" y="491.31" font-size="50.4">0</text>
<text transform="scale(1.0006,1)" x="80.88" y="569.11" font-size="50.4">-</text>
<text transform="scale(1.0889,1)" x="92.38" y="569.11" font-size="50.4">2</text>
<text transform="scale(0.9831,1)" x="125.23" y="569.11" font-size="50.4">0</text>
<text transform="scale(0.9925,1)" x="153.05" y="569.11" font-size="50.4">0</text>
<text transform="scale(1.0006,1)" x="80.88" y="640.01" font-size="50.4">-</text>
<text transform="scale(0.8742,1)" x="116.21" y="640.01" font-size="50.4">3</text>
<text transform="scale(0.9831,1)" x="125.23" y="640.01" font-size="50.4">0</text>
<text transform="scale(0.9925,1)" x="153.05" y="640.01" font-size="50.4">0</text>
<text transform="scale(1.0006,1)" x="80.88" y="710.01" font-size="50.4">-</text>
<text transform="scale(0.9433,1)" x="108.10" y="710.01" font-size="50.4">4</text>
<text transform="scale(0.9831,1)" x="125.23" y="710.01" font-size="50.4">0</text>
<text transform="scale(0.9925,1)" x="153.05" y="710.01" font-size="50.4">0</text>
<text transform="scale(1.0006,1)" x="80.88" y="787.51" font-size="50.4">-</text>
<text transform="scale(0.8817,1)" x="116.17" y="787.51" font-size="50.4">5</text>
<text transform="scale(0.9831,1)" x="125.23" y="787.51" font-size="50.4">0</text>
<text transform="scale(0.9925,1)" x="153.05" y="787.51" font-size="50.4">0</text>
<text transform="scale(1.0159,1)" x="149.53" y="830.6" font-size="50.4">-</text>
<text transform="scale(0.7439,1)" x="226.64" y="830.6" font-size="50.4">1</text>
<text transform="scale(1.1037,1)" x="175.27" y="830.6" font-size="50.4">2</text>
<text transform="scale(1.0065,1)" x="214.37" y="830.6" font-size="50.4">0</text>
<text transform="scale(1.0082,1)" x="270.69" y="830.6" font-size="50.4">-</text>
<text transform="scale(0.9764,1)" x="294.48" y="830.6" font-size="50.4">9</text>
<text transform="scale(0.9878,1)" x="319.91" y="830.6" font-size="50.4">0</text>
<text transform="scale(1.0082,1)" x="376.91" y="830.6" font-size="50.4">-</text>
<text transform="scale(0.9845,1)" x="407.07" y="830.6" font-size="50.4">6</text>
<text transform="scale(0.9971,1)" x="424.20" y="830.6" font-size="50.4">0</text>
<text transform="scale(1.0082,1)" x="489.98" y="830.6" font-size="50.4">-</text>
<text transform="scale(0.8742,1)" x="580.99" y="830.6" font-size="50.4">3</text>
<text transform="scale(0.9878,1)" x="542.63" y="830.6" font-size="50.4">0</text>
<text transform="scale(0.9831,1)" x="632.81" y="830.6" font-size="50.4">0</text>
<text transform="scale(0.8790,1)" x="821.04" y="830.6" font-size="50.4">3</text>
<text transform="scale(0.9831,1)" x="755.78" y="830.6" font-size="50.4">0</text>
<text transform="scale(0.9799,1)" x="844.77" y="830.6" font-size="50.4">6</text>
<text transform="scale(0.9831,1)" x="871.84" y="830.6" font-size="50.4">0</text>
<text transform="scale(0.9810,1)" x="953.42" y="830.6" font-size="50.4">9</text>
<text transform="scale(0.9831,1)" x="980.68" y="830.6" font-size="50.4">0</text>
<text transform="scale(0.7439,1)" x="1394.74" y="830.6" font-size="50.4">1</text>
<text transform="scale(1.0889,1)" x="975.86" y="830.6" font-size="50.4">2</text>
<text transform="scale(0.9831,1)" x="1103.76" y="830.6" font-size="50.4">0</text>
</g>
<g font-family="Liberation Serif" fill="#000" filter="url(#bin)">
<text transform="scale(1.0025,1)" x="442.79" y="894.3" font-size="50.5" font-weight="bold">D</text>
<text transform="scale(0.8825,1)" x="544.21" y="894.3" font-size="50.5" font-weight="bold">i</text>
<text transform="scale(0.9058,1)" x="545.71" y="894.3" font-size="50.5" font-weight="bold">s</text>
<text transform="scale(0.9528,1)" x="541.95" y="894.3" font-size="50.5" font-weight="bold">p</text>
<text transform="scale(0.9030,1)" x="602.42" y="894.3" font-size="50.5" font-weight="bold">l</text>
<text transform="scale(0.9450,1)" x="590.89" y="894.3" font-size="50.5" font-weight="bold">a</text>
<text transform="scale(0.9470,1)" x="612.14" y="894.3" font-size="50.5" font-weight="bold">c</text>
<text transform="scale(0.9906,1)" x="607.07" y="894.3" font-size="50.5" font-weight="bold">e</text>
<text transform="scale(0.9336,1)" x="666.84" y="894.3" font-size="50.5" font-weight="bold">m</text>
<text transform="scale(0.9906,1)" x="671.57" y="894.3" font-size="50.5" font-weight="bold">e</text>
<text transform="scale(0.9282,1)" x="739.78" y="894.3" font-size="50.5" font-weight="bold">n</text>
<text transform="scale(0.9505,1)" x="752.58" y="894.3" font-size="50.5" font-weight="bold">t</text>
<text transform="scale(0.9773,1)" x="746.63" y="894.3" font-size="50.5" font-weight="bold">/</text>
<text transform="scale(0.9336,1)" x="796.45" y="894.3" font-size="50.5" font-weight="bold">m</text>
<text transform="scale(0.9260,1)" x="849.59" y="894.3" font-size="50.5" font-weight="bold">m</text>
<text transform="rotate(-90) scale(1.0098,1)" x="-513.84" y="59.6" font-size="50.5" font-weight="bold">L</text>
<text transform="rotate(-90) scale(0.9858,1)" x="-490.85" y="59.6" font-size="50.5" font-weight="bold">o</text>
<text transform="rotate(-90) scale(0.9493,1)" x="-486.92" y="59.6" font-size="50.5" font-weight="bold">a</text>
<text transform="rotate(-90) scale(0.9422,1)" x="-460.65" y="59.6" font-size="50.5" font-weight="bold">d</text>
<text transform="rotate(-90) scale(0.9030,1)" x="-448.49" y="59.6" font-size="50.5" font-weight="bold">i</text>
<text transform="rotate(-90) scale(0.9243,1)" x="-423.40" y="59.6" font-size="50.5" font-weight="bold">n</text>
<text transform="rotate(-90) scale(0.9434,1)" x="-385.04" y="59.6" font-size="50.5" font-weight="bold">g</text>
<text transform="rotate(-90) scale(0.9175,1)" x="-370.86" y="59.6" font-size="50.5" font-weight="bold">/</text>
<text transform="rotate(-90) scale(0.9681,1)" x="-337.91" y="59.6" font-size="50.5" font-weight="bold">k</text>
<text transform="rotate(-90) scale(0.9701,1)" x="-308.87" y="59.6" font-size="50.5" font-weight="bold">N</text>
</g>
<rect x="223" y="80" width="107" height="2" fill="#6f6f6f"/>
<rect x="223" y="144" width="107" height="1" fill="#ff3b3b"/>
<rect x="223" y="207" width="107" height="2" fill="#0a66dc"/>
<rect x="223" y="271" width="107" height="2" fill="#00a865"/>
<rect x="223" y="335" width="107" height="1" fill="#c077e1"/>
<rect x="265" y="73" width="23" height="22" fill="#6f6f6f"/>
<polygon points="294.40,148.00 294.24,150.04 293.75,151.78 292.95,153.37 291.84,154.79 290.45,156.03 288.81,157.07 286.92,157.90 284.82,158.51 282.50,158.88 279.80,159.00 277.10,158.88 274.78,158.51 272.68,157.90 270.79,157.07 269.15,156.03 267.76,154.79 266.65,153.37 265.85,151.78 265.36,150.04 265.20,148.00 265.36,145.96 265.85,144.22 266.65,142.63 267.76,141.21 269.15,139.97 270.79,138.93 272.68,138.10 274.78,137.49 277.10,137.12 279.80,137.00 282.50,137.12 284.82,137.49 286.92,138.10 288.81,138.93 290.45,139.97 291.84,141.21 292.95,142.63 293.75,144.22 294.24,145.96" fill="#ff3b3b"/>
<polygon points="273.2,193 288,215.5 265,215.5" fill="#0a66dc"/>
<polygon points="265,264 288,264 272.6,287" fill="#00a865"/>
<polygon points="272.4,320.2 279,326.1 287.8,335 273.1,342.7 265.3,334.7" fill="#c077e1"/>
<g font-family="Liberation Serif" fill="#000" filter="url(#bin)">
<text transform="scale(1.0275,1)" x="333.14" y="101.7" font-size="50.2">B</text>
<text transform="scale(0.8972,1)" x="424.59" y="101.7" font-size="50.2">T</text>
<text transform="scale(1.0833,1)" x="375.54" y="101.7" font-size="50.2">2</text>
<text transform="scale(1.0228,1)" x="427.47" y="101.7" font-size="50.2">Y</text>
<text transform="scale(1.0199,1)" x="462.68" y="101.7" font-size="50.2">-</text>
<text transform="scale(0.7299,1)" x="671.13" y="101.7" font-size="50.2">1</text>
<text transform="scale(1.0275,1)" x="333.14" y="166" font-size="50.2">B</text>
<text transform="scale(0.8972,1)" x="424.59" y="166" font-size="50.2">T</text>
<text transform="scale(1.0833,1)" x="375.54" y="166" font-size="50.2">2</text>
<text transform="scale(1.0228,1)" x="427.47" y="166" font-size="50.2">Y</text>
<text transform="scale(1.0199,1)" x="462.68" y="166" font-size="50.2">-</text>
<text transform="scale(1.0783,1)" x="450.63" y="166" font-size="50.2">2</text>
<text transform="scale(1.0275,1)" x="333.14" y="286" font-size="50.2">B</text>
<text transform="scale(0.8972,1)" x="424.59" y="286" font-size="50.2">T</text>
<text transform="scale(1.0833,1)" x="375.54" y="286" font-size="50.2">2</text>
<text transform="scale(1.0228,1)" x="427.47" y="286" font-size="50.2">Y</text>
<text transform="scale(1.0199,1)" x="462.68" y="286" font-size="50.2">-</text>
<text transform="scale(0.9985,1)" x="486.45" y="286" font-size="50.2">4</text>
<text transform="scale(1.0275,1)" x="333.14" y="350.1" font-size="50.2">B</text>
<text transform="scale(0.8972,1)" x="424.59" y="350.1" font-size="50.2">T</text>
<text transform="scale(1.0833,1)" x="375.54" y="350.1" font-size="50.2">2</text>
<text transform="scale(1.0228,1)" x="427.47" y="350.1" font-size="50.2">Y</text>
<text transform="scale(1.0199,1)" x="462.68" y="350.1" font-size="50.2">-</text>
<text transform="scale(0.8951,1)" x="544.42" y="350.1" font-size="50.2">5</text>
<text transform="scale(1.0174,1)" x="336.77" y="222.1" font-size="50.2">B</text>
<text transform="scale(0.9775,1)" x="389.67" y="222.1" font-size="50.2">A</text>
<text transform="scale(1.0118,1)" x="410.18" y="222.1" font-size="50.2">S</text>
<text transform="scale(1.1303,1)" x="391.45" y="222.1" font-size="50.2">E</text>
</g>
</svg></body></html>
